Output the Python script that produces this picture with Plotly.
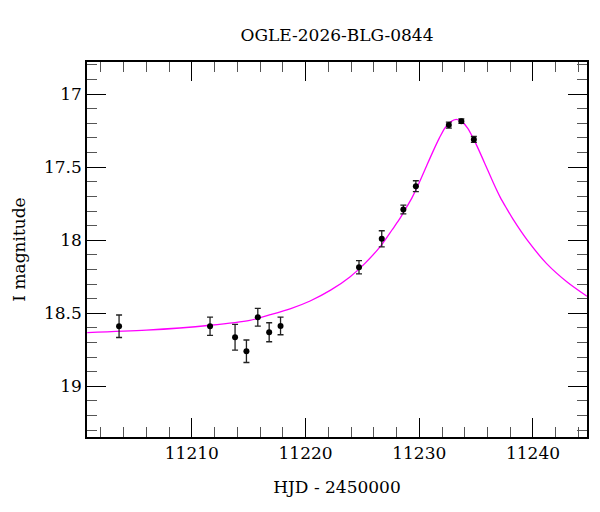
import plotly.graph_objects as go

# Observations (HJD - 2450000, I magnitude, error)
obs_x = [11203.6, 11211.6, 11213.8, 11214.8, 11215.8, 11216.8, 11217.8,
         11224.7, 11226.7, 11228.6, 11229.7, 11232.6, 11233.7, 11234.8]
obs_y = [18.589, 18.589, 18.664, 18.76, 18.527, 18.63, 18.587,
         18.185, 17.99, 17.79, 17.63, 17.212, 17.185, 17.31]
obs_err = [0.077, 0.063, 0.088, 0.077, 0.061, 0.065, 0.06,
           0.045, 0.055, 0.03, 0.037, 0.02, 0.015, 0.02]

# Model curve
curve_x = [11200.8, 11206.0, 11211.6, 11215.1, 11216.9, 11218.7, 11220.4,
           11222.2, 11223.9, 11225.2, 11226.6, 11227.6, 11228.2, 11228.8,
           11229.4, 11230.0, 11230.65, 11231.25, 11231.75, 11232.25,
           11232.75, 11233.25, 11233.75, 11234.25, 11234.75, 11235.25,
           11235.85, 11236.5, 11237.1, 11237.7, 11238.3, 11239.5, 11241.2,
           11243.0, 11244.75]
curve_y = [18.632, 18.616, 18.582, 18.548, 18.51, 18.468, 18.416,
           18.342, 18.251, 18.16, 18.04, 17.93, 17.863, 17.785,
           17.703, 17.605, 17.49, 17.385, 17.303, 17.232,
           17.19, 17.173, 17.19, 17.232, 17.303, 17.385,
           17.49, 17.605, 17.703, 17.785, 17.863, 18.0, 18.16,
           18.286, 18.384]

x_ticks = [11210, 11220, 11230, 11240]
x_tick_text = ["11210", "11220", "11230", "11240"]
y_ticks = [17, 17.5, 18, 18.5, 19]
y_tick_text = ["17", "17.5", "18", "18.5", "19"]

FONT = "DejaVu Serif"

fig = go.Figure()
fig.add_trace(go.Scatter(
    x=curve_x, y=curve_y, mode="lines", line_shape="spline",
    line=dict(color="#ff00ff", width=1.3, smoothing=0.8),
    hoverinfo="skip", showlegend=False))
fig.add_trace(go.Scatter(
    x=obs_x, y=obs_y, mode="markers",
    marker=dict(color="black", size=6),
    error_y=dict(type="data", array=obs_err, visible=True,
                 color="#222222", thickness=1.3, width=3),
    showlegend=False))

axis_common = dict(
    showgrid=False, zeroline=False, showline=True, linecolor="black",
    linewidth=1.5, mirror="allticks", ticks="inside", ticklen=19,
    tickwidth=1.2, tickcolor="black", automargin=False,
    tickfont=dict(family=FONT, size=17, color="black"),
)

fig.update_layout(
    width=600, height=512,
    margin=dict(l=79, r=21, t=54, b=83),
    paper_bgcolor="white", plot_bgcolor="white",
    title=dict(text="OGLE-2026-BLG-0844", x=0.5, xref="paper",
               y=1 - 27 / 512, yref="container", yanchor="middle",
               font=dict(family=FONT, size=17, color="black")),
    xaxis=dict(range=[11200.78, 11244.75], tickvals=x_ticks,
               ticktext=x_tick_text,
               minor=dict(dtick=2, ticks="inside", ticklen=10,
                          tickwidth=1, tickcolor="#555555"),
               title=dict(text="HJD - 2450000",
                          font=dict(family=FONT, size=17, color="black"),
                          standoff=19),
               **axis_common),
    yaxis=dict(range=[19.347, 16.78], tickvals=y_ticks, ticktext=y_tick_text,
               minor=dict(dtick=0.1, ticks="inside", ticklen=10,
                          tickwidth=1, tickcolor="#555555"),
               title=dict(text="I magnitude",
                          font=dict(family=FONT, size=17, color="black"),
                          standoff=14),
               **axis_common),
)

fig.write_html("out.html")
